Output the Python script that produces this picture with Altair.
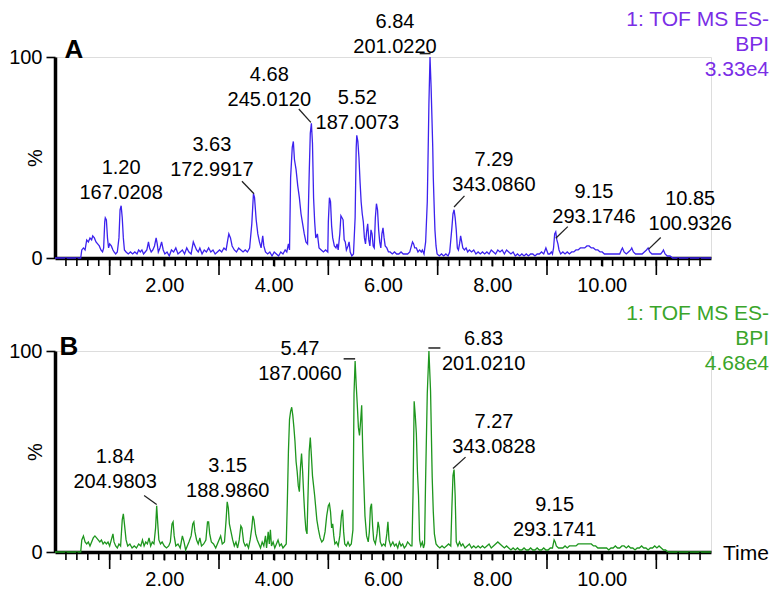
import altair as alt
import pandas as pd

# ---------------- Panel A : BPI chromatogram (100 % = 3.33e4) ----------------
time_a = [0.00, 0.47, 0.49, 0.52, 0.55, 0.58, 0.61, 0.64, 0.67, 0.69, 0.72, 0.75, 0.78, 0.81, 0.84, 0.87,
          0.89, 0.91, 0.92, 0.94, 0.96, 0.98, 1.00, 1.03, 1.06, 1.08, 1.11, 1.14, 1.17, 1.19, 1.21, 1.23,
          1.25, 1.27, 1.30, 1.34, 1.38, 1.42, 1.46, 1.50, 1.53, 1.56, 1.59, 1.62, 1.65, 1.68, 1.71, 1.73,
          1.76, 1.79, 1.82, 1.85, 1.87, 1.89, 1.92, 1.95, 1.98, 2.01, 2.05, 2.09, 2.13, 2.17, 2.21, 2.25,
          2.29, 2.33, 2.37, 2.41, 2.45, 2.49, 2.53, 2.56, 2.59, 2.62, 2.65, 2.69, 2.73, 2.77, 2.81, 2.85,
          2.89, 2.93, 2.97, 3.01, 3.05, 3.09, 3.13, 3.16, 3.18, 3.21, 3.24, 3.28, 3.32, 3.36, 3.40, 3.44,
          3.48, 3.52, 3.56, 3.60, 3.63, 3.65, 3.68, 3.71, 3.74, 3.77, 3.80, 3.82, 3.85, 3.89, 3.93, 3.97,
          4.01, 4.05, 4.09, 4.13, 4.17, 4.21, 4.24, 4.27, 4.29, 4.31, 4.34, 4.36, 4.38, 4.41, 4.44, 4.47,
          4.50, 4.53, 4.56, 4.59, 4.62, 4.65, 4.67, 4.69, 4.71, 4.73, 4.75, 4.77, 4.80, 4.83, 4.87, 4.91,
          4.95, 4.99, 5.00, 5.02, 5.04, 5.06, 5.08, 5.11, 5.14, 5.16, 5.18, 5.21, 5.23, 5.25, 5.27, 5.29,
          5.31, 5.33, 5.36, 5.38, 5.40, 5.43, 5.46, 5.49, 5.51, 5.52, 5.54, 5.56, 5.58, 5.60, 5.62, 5.64,
          5.66, 5.68, 5.70, 5.72, 5.74, 5.76, 5.78, 5.80, 5.82, 5.84, 5.86, 5.88, 5.90, 5.92, 5.94, 5.96,
          5.98, 6.00, 6.02, 6.04, 6.07, 6.10, 6.13, 6.17, 6.21, 6.25, 6.29, 6.33, 6.37, 6.41, 6.45, 6.49,
          6.52, 6.54, 6.56, 6.58, 6.61, 6.64, 6.67, 6.70, 6.72, 6.75, 6.78, 6.81, 6.83, 6.84, 6.86, 6.88,
          6.89, 6.91, 6.92, 6.94, 6.95, 6.97, 6.99, 7.03, 7.07, 7.11, 7.15, 7.19, 7.22, 7.26, 7.28, 7.30,
          7.32, 7.34, 7.36, 7.38, 7.40, 7.42, 7.44, 7.46, 7.49, 7.52, 7.55, 7.58, 7.62, 7.66, 7.70, 7.74,
          7.78, 7.82, 7.86, 7.90, 7.94, 7.98, 8.02, 8.06, 8.10, 8.14, 8.18, 8.22, 8.26, 8.30, 8.34, 8.38,
          8.42, 8.46, 8.50, 8.54, 8.58, 8.62, 8.66, 8.70, 8.74, 8.78, 8.82, 8.86, 8.90, 8.94, 8.98, 9.02,
          9.05, 9.08, 9.10, 9.12, 9.14, 9.16, 9.18, 9.20, 9.22, 9.25, 9.29, 9.33, 9.37, 9.41, 9.45, 9.49,
          9.53, 9.57, 9.61, 9.65, 9.69, 9.73, 9.77, 9.81, 9.85, 9.89, 9.93, 9.97, 10.01, 10.05, 10.09, 10.13,
          10.17, 10.21, 10.25, 10.29, 10.33, 10.36, 10.38, 10.41, 10.45, 10.49, 10.53, 10.55, 10.58, 10.62, 10.66, 10.70,
          10.74, 10.78, 10.82, 10.85, 10.88, 10.92, 10.96, 11.00, 11.04, 11.08, 11.11, 11.13, 11.16, 11.20, 11.25, 11.30,
          12.00]
bpi_a = [0, 0, 4, 5, 4, 9, 8, 10, 9, 11, 10, 8, 7, 6, 4, 3,
         5, 18, 20, 19, 10, 5, 7, 6, 4, 3, 2, 3, 10, 24, 26, 20,
         10, 4, 3, 2, 3, 2, 3, 2, 4, 3, 4, 2, 3, 4, 8, 5,
         3, 4, 6, 10, 7, 3, 5, 8, 4, 2, 3, 1, 4, 3, 5, 2,
         3, 4, 2, 5, 3, 2, 8, 6, 4, 3, 5, 2, 4, 3, 5, 3,
         4, 2, 3, 4, 3, 5, 4, 9, 12, 10, 6, 4, 3, 5, 4, 3,
         4, 3, 5, 17, 32, 30, 19, 12, 8, 5, 11, 6, 3, 2, 3, 1,
         3, 2, 1, 3, 2, 4, 3, 7, 4, 40, 55, 58, 49, 44, 36, 30,
         22, 17, 12, 8, 7, 42, 62, 67, 57, 30, 18, 10, 12, 5, 4, 3,
         4, 3, 18, 30, 28, 16, 10, 6, 5, 7, 4, 12, 21, 20, 19, 9,
         8, 4, 6, 8, 3, 1, 2, 20, 55, 61, 58, 50, 38, 28, 22, 18,
         10, 7, 13, 17, 9, 6, 14, 12, 6, 5, 20, 27, 24, 14, 8, 5,
         12, 15, 10, 6, 5, 3, 3, 2, 3, 2, 2, 3, 2, 2, 2, 3,
         6, 8, 7, 5, 5, 3, 4, 3, 4, 2, 8, 28, 60, 77, 100, 85,
         75, 55, 40, 22, 14, 6, 2, 1, 2, 1, 2, 1, 3, 15, 22, 24,
         20, 14, 5, 4, 7, 11, 8, 5, 4, 5, 3, 4, 3, 4, 2, 3,
         2, 3, 2, 3, 2, 4, 3, 2, 4, 3, 4, 2, 4, 3, 2, 3,
         1, 2, 1, 2, 1, 2, 1, 2, 2, 1, 2, 2, 3, 2, 5, 2,
         2, 3, 2, 5, 12, 13, 9, 7, 4, 2, 3, 2, 3, 2, 3, 3,
         4, 4, 5, 5, 5, 6, 6, 5, 5, 4, 4, 3, 3, 2, 2, 2,
         2, 2, 2, 2, 2, 4, 5, 3, 2, 3, 4, 5, 3, 2, 2, 2,
         2, 3, 4, 5, 3, 2, 2, 2, 2, 2, 3, 4, 2, 1, 1, 0,
         0]

# ---------------- Panel B : BPI chromatogram (100 % = 4.68e4) ----------------
time_b = [0.00, 0.47, 0.49, 0.52, 0.55, 0.58, 0.61, 0.64, 0.67, 0.70, 0.73, 0.76, 0.79, 0.82, 0.85, 0.88,
          0.91, 0.94, 0.97, 1.00, 1.03, 1.06, 1.08, 1.11, 1.14, 1.17, 1.20, 1.23, 1.25, 1.27, 1.30, 1.33,
          1.37, 1.41, 1.45, 1.49, 1.53, 1.57, 1.60, 1.63, 1.66, 1.69, 1.72, 1.75, 1.78, 1.81, 1.84, 1.86,
          1.88, 1.90, 1.93, 1.96, 2.00, 2.04, 2.08, 2.11, 2.14, 2.16, 2.18, 2.21, 2.25, 2.29, 2.33, 2.36,
          2.39, 2.42, 2.45, 2.49, 2.52, 2.54, 2.56, 2.59, 2.62, 2.65, 2.68, 2.72, 2.76, 2.79, 2.81, 2.83,
          2.86, 2.90, 2.94, 2.97, 3.00, 3.03, 3.06, 3.10, 3.13, 3.15, 3.17, 3.19, 3.22, 3.25, 3.28, 3.31,
          3.34, 3.37, 3.40, 3.42, 3.45, 3.48, 3.51, 3.54, 3.57, 3.60, 3.62, 3.64, 3.67, 3.70, 3.73, 3.76,
          3.79, 3.82, 3.85, 3.87, 3.90, 3.92, 3.94, 3.96, 3.99, 4.02, 4.05, 4.08, 4.11, 4.14, 4.17, 4.20,
          4.23, 4.25, 4.27, 4.29, 4.31, 4.33, 4.35, 4.37, 4.39, 4.41, 4.43, 4.45, 4.47, 4.49, 4.51, 4.53,
          4.55, 4.57, 4.59, 4.61, 4.63, 4.65, 4.67, 4.69, 4.71, 4.73, 4.75, 4.77, 4.79, 4.82, 4.85, 4.88,
          4.91, 4.94, 4.97, 5.00, 5.02, 5.04, 5.06, 5.08, 5.10, 5.12, 5.15, 5.18, 5.21, 5.24, 5.26, 5.28,
          5.30, 5.33, 5.36, 5.39, 5.42, 5.45, 5.47, 5.49, 5.51, 5.53, 5.55, 5.57, 5.59, 5.61, 5.63, 5.65,
          5.67, 5.70, 5.73, 5.75, 5.77, 5.79, 5.81, 5.83, 5.86, 5.89, 5.91, 5.93, 5.95, 5.98, 6.01, 6.04,
          6.07, 6.09, 6.11, 6.14, 6.18, 6.21, 6.24, 6.27, 6.30, 6.33, 6.36, 6.39, 6.42, 6.45, 6.48, 6.51,
          6.53, 6.55, 6.57, 6.59, 6.61, 6.63, 6.65, 6.67, 6.69, 6.72, 6.74, 6.76, 6.78, 6.81, 6.84, 6.87,
          6.90, 6.92, 6.94, 6.97, 7.00, 7.04, 7.08, 7.12, 7.16, 7.20, 7.24, 7.26, 7.28, 7.30, 7.32, 7.34,
          7.37, 7.40, 7.43, 7.46, 7.50, 7.54, 7.58, 7.62, 7.66, 7.70, 7.74, 7.78, 7.82, 7.86, 7.90, 7.94,
          7.98, 8.02, 8.06, 8.10, 8.14, 8.18, 8.22, 8.26, 8.30, 8.34, 8.38, 8.42, 8.46, 8.50, 8.54, 8.58,
          8.62, 8.66, 8.70, 8.74, 8.78, 8.82, 8.86, 8.90, 8.94, 8.98, 9.02, 9.06, 9.10, 9.13, 9.15, 9.17,
          9.21, 9.25, 9.29, 9.33, 9.37, 9.41, 9.45, 9.49, 9.53, 9.57, 9.61, 9.65, 9.69, 9.73, 9.77, 9.81,
          9.85, 9.89, 9.93, 9.97, 10.01, 10.05, 10.09, 10.13, 10.17, 10.21, 10.25, 10.29, 10.33, 10.37, 10.41, 10.45,
          10.49, 10.53, 10.57, 10.61, 10.65, 10.69, 10.73, 10.77, 10.81, 10.85, 10.89, 10.93, 10.97, 11.01, 11.05, 11.09,
          11.13, 11.17, 11.21, 11.30, 12.00]
bpi_b = [0, 0, 6, 8, 5, 4, 5, 3, 5, 7, 8, 7, 6, 5, 6, 4,
         5, 4, 5, 3, 6, 9, 5, 3, 2, 4, 3, 16, 19, 14, 6, 3,
         4, 2, 3, 2, 4, 3, 6, 3, 5, 4, 7, 3, 5, 4, 12, 23,
         14, 6, 4, 5, 3, 2, 3, 5, 14, 15, 8, 3, 4, 2, 8, 5,
         1, 3, 5, 8, 14, 15, 10, 6, 4, 7, 3, 4, 6, 15, 15, 9,
         5, 4, 2, 4, 6, 8, 4, 5, 16, 25, 22, 14, 10, 6, 3, 5,
         2, 6, 13, 12, 5, 3, 4, 2, 6, 12, 18, 16, 9, 6, 4, 2,
         5, 3, 8, 2, 10, 4, 11, 3, 5, 2, 4, 6, 3, 4, 2, 3,
         4, 25, 50, 66, 70, 72, 68, 62, 55, 45, 40, 33, 30, 42, 49, 40,
         28, 18, 11, 9, 30, 50, 57, 48, 38, 33, 28, 22, 16, 11, 7, 5,
         6, 10, 18, 23, 24, 20, 12, 14, 8, 4, 5, 3, 8, 18, 21, 10,
         4, 3, 5, 3, 4, 11, 79, 95, 83, 73, 62, 58, 65, 73, 50, 34,
         18, 8, 5, 10, 22, 24, 13, 6, 4, 9, 15, 12, 5, 3, 4, 3,
         9, 15, 6, 3, 5, 3, 4, 2, 5, 3, 4, 2, 3, 5, 4, 3,
         3, 30, 75, 68, 59, 40, 28, 6, 3, 5, 2, 4, 37, 79, 100, 80,
         37, 20, 9, 4, 3, 2, 3, 2, 3, 4, 3, 22, 38, 41, 28, 5,
         3, 5, 3, 4, 2, 3, 4, 2, 3, 2, 3, 2, 3, 2, 3, 4,
         2, 3, 4, 5, 4, 3, 2, 3, 2, 1, 2, 1, 2, 1, 1, 2,
         1, 1, 2, 1, 1, 2, 1, 1, 2, 1, 1, 2, 2, 6, 5, 3,
         2, 2, 2, 3, 2, 3, 3, 3, 3, 4, 4, 4, 4, 4, 4, 4,
         3, 3, 2, 2, 2, 2, 2, 1, 2, 2, 3, 2, 2, 3, 3, 2,
         3, 2, 2, 1, 2, 2, 3, 2, 2, 1, 2, 2, 3, 2, 3, 2,
         1, 1, 0, 0, 0]

# ---------------- peak annotations (retention time / m/z) ----------------
peak_rt_a = ["1.20", "3.63", "4.68", "5.52", "6.84", "7.29", "9.15", "10.85"]
peak_mz_a = ["167.0208", "172.9917", "245.0120", "187.0073", "201.0220", "343.0860", "293.1746", "100.9326"]
peak_rt_b = ["1.84", "3.15", "5.47", "6.83", "7.27", "9.15"]
peak_mz_b = ["204.9803", "188.9860", "187.0060", "201.0210", "343.0828", "293.1741"]
header_a = ["1: TOF MS ES-", "BPI", "3.33e4"]
header_b = ["1: TOF MS ES-", "BPI", "4.68e4"]

# annotation layout, in data coordinates (time, %): text centre of first line
label_pos_a = [(1.21, 44.9), (2.87, 56.1), (3.92, 91.2), (5.53, 79.5),
               (6.22, 117.6), (8.03, 48.8), (9.86, 32.7), (11.62, 29.3)]
leader_pos_a = [(3.64, 32.0, 3.42, 38.2), (4.68, 67.5, 4.46, 74.1), (7.30, 25.4, 7.49, 30.9),
                (9.16, 9.8, 9.38, 15.6), (10.86, 4.4, 11.08, 10.2)]
dash_pos_a = [(6.67, 6.87, 101.7)]
label_pos_b = [(1.10, 47.3), (3.16, 42.9), (4.48, 101.0), (7.84, 105.9), (8.03, 64.9), (9.14, 23.4)]
leader_pos_b = [(1.86, 23.6, 1.63, 28.1), (7.28, 41.5, 7.51, 47.2)]
dash_pos_b = [(5.28, 5.49, 96.1), (6.83, 7.05, 101.5)]

# axis ticks: labels at even minutes, minor ticks every 0.2 min, longer ticks at odd minutes
label_ticks = [2, 4, 6, 8, 10]
minor_ticks = [round(0.2 * i, 1) for i in range(1, 60)]
long_ticks = [1, 3, 5, 7, 9, 11]

W, H = 656, 201
FONT = "Liberation Sans"
FS = 20

xs = alt.Scale(domain=[0, 12], nice=False, zero=False)
ys = alt.Scale(domain=[0, 100], nice=False)

X_AXIS = alt.Axis(
    values=label_ticks, format=".2f", title=None, grid=False,
    labelFont=FONT, labelFontSize=FS, labelColor="black", labelPadding=9,
    labelOverlap=False, labelFlush=False,
    tickSize=8, tickWidth=1.6, tickColor="black", domainColor="black", domainWidth=3.5,
)
Y_AXIS = alt.Axis(
    values=[0, 100], title="%", grid=False,
    labelFont=FONT, labelFontSize=FS, labelColor="black", labelPadding=4,
    tickSize=9, tickWidth=1.6, tickColor="black", domainColor="black", domainWidth=3.5,
    titleFont=FONT, titleFontSize=FS, titleFontWeight="normal", titleColor="black",
    titleAngle=270, titleX=-20, titleY=H / 2, titleAlign="center", titleBaseline="middle",
)


def X(f):
    return alt.X(f, scale=xs, axis=X_AXIS)


def Y(f):
    return alt.Y(f, scale=ys, axis=Y_AXIS)


def panel(times, vals, line_color, head_color, rts, mzs, lab_pos, leaders, dashes,
          header, letter, letter_xy, show_time):
    df = pd.DataFrame({"t": times, "v": vals})
    line = alt.Chart(df).mark_line(color=line_color, strokeWidth=1.3).encode(
        x=X("t:Q"), y=Y("v:Q"))
    mt = alt.Chart(pd.DataFrame({"m": minor_ticks})).mark_rule(color="black", strokeWidth=1.6).encode(
        x=X("m:Q"), y=alt.value(H), y2=alt.value(H + 8))
    lt = alt.Chart(pd.DataFrame({"m": long_ticks})).mark_rule(color="black", strokeWidth=1.6).encode(
        x=X("m:Q"), y=alt.value(H), y2=alt.value(H + 17))
    lab = pd.DataFrame({"rt": rts, "mz": mzs,
                        "tx": [p[0] for p in lab_pos], "ty": [p[1] for p in lab_pos]})
    txt1 = alt.Chart(lab).mark_text(font=FONT, fontSize=FS, color="black", baseline="middle").encode(
        x=X("tx:Q"), y=Y("ty:Q"), text="rt:N")
    txt2 = alt.Chart(lab).mark_text(font=FONT, fontSize=FS, color="black", baseline="middle", dy=25).encode(
        x=X("tx:Q"), y=Y("ty:Q"), text="mz:N")
    ld = pd.DataFrame({"x1": [l[0] for l in leaders], "y1": [l[1] for l in leaders],
                       "x2": [l[2] for l in leaders], "y2": [l[3] for l in leaders]})
    lead = alt.Chart(ld).mark_rule(color="#222222", strokeWidth=1.3).encode(
        x=X("x1:Q"), y=Y("y1:Q"), x2="x2:Q", y2="y2:Q")
    dd = pd.DataFrame({"xa": [d[0] for d in dashes], "xb": [d[1] for d in dashes],
                       "yy": [d[2] for d in dashes]})
    dash = alt.Chart(dd).mark_rule(color="#222222", strokeWidth=1.5).encode(
        x=X("xa:Q"), x2="xb:Q", y=Y("yy:Q"))
    one = pd.DataFrame({"k": [0]})
    head = alt.Chart(one).mark_text(font=FONT, fontSize=FS + 1, color=head_color, align="right",
                                    baseline="top", lineHeight=25, text=header).encode(
        x=alt.value(W + 58), y=alt.value(-48))
    let = alt.Chart(one).mark_text(font=FONT, fontSize=26, fontWeight="bold", color="black",
                                   baseline="middle", align="center", text=letter).encode(
        x=alt.value(letter_xy[0]), y=alt.value(letter_xy[1]))
    layers = [line, mt, lt, lead, dash, txt1, txt2, head, let]
    if show_time:
        tm = alt.Chart(one).mark_text(font=FONT, fontSize=FS + 1, color="black", align="left",
                                      baseline="middle", text="Time").encode(
            x=alt.value(W + 12), y=alt.value(H + 2))
        layers.append(tm)
    return alt.layer(*layers).properties(width=W, height=H)


pa = panel(time_a, bpi_a, "#3c22ee", "#7a2de6", peak_rt_a, peak_mz_a, label_pos_a,
           leader_pos_a, dash_pos_a, header_a, "A", (19, -7), False)
pb = panel(time_b, bpi_b, "#1e961e", "#3aa52a", peak_rt_b, peak_mz_b, label_pos_b,
           leader_pos_b, dash_pos_b, header_b, "B", (14, -4), True)

chart = alt.vconcat(pa, pb, spacing=93, bounds="flush").properties(
    padding=0
).configure_view(stroke=None).configure(background="white")

chart.save("out.html", embed_options={"renderer": "svg", "actions": False})
